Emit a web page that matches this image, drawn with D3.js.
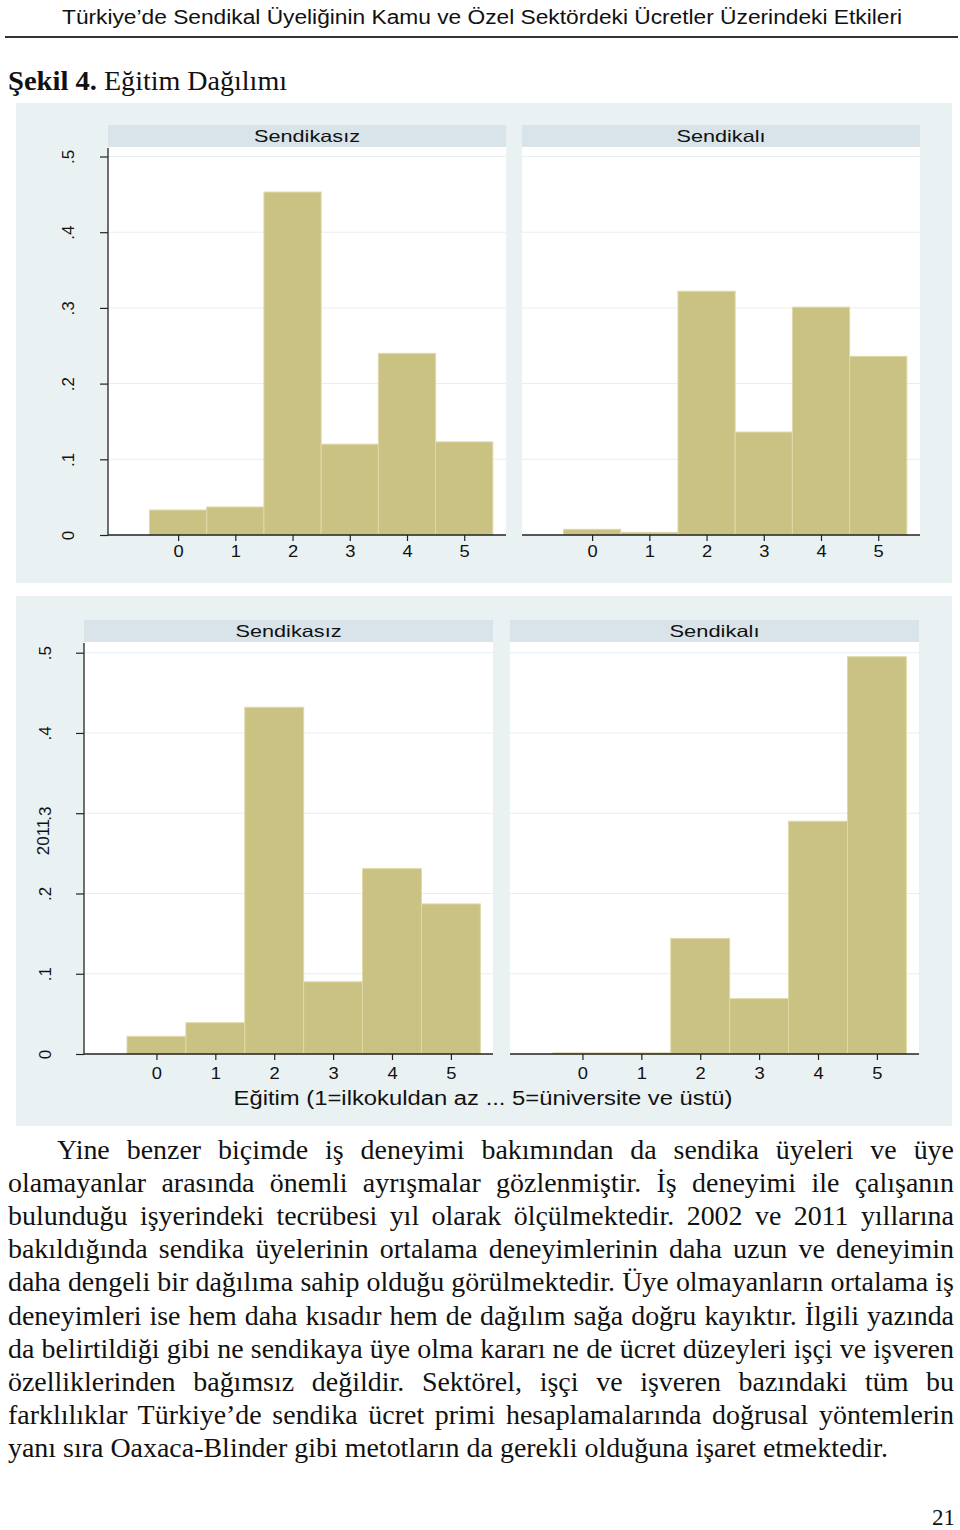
<!DOCTYPE html>
<html><head><meta charset="utf-8">
<script src="https://cdn.jsdelivr.net/npm/d3@7"></script>
<style>body{margin:0;background:#fff}svg{display:block}</style>
</head><body><div id="chart"></div>
<script>
// ---- data ----
const categories = [0, 1, 2, 3, 4, 5];
const yTicks = [0, 0.1, 0.2, 0.3, 0.4, 0.5];
const yTickLabels = ["0", ".1", ".2", ".3", ".4", ".5"];
const panelTitles = ["Sendikasız", "Sendikalı"];
const nonUnion2002 = [0.033, 0.037, 0.453, 0.120, 0.240, 0.123];
const union2002 = [0.0075, 0.0035, 0.322, 0.136, 0.301, 0.236];
const nonUnion2011 = [0.022, 0.039, 0.432, 0.090, 0.231, 0.187];
const union2011 = [0.0015, 0.0015, 0.144, 0.069, 0.290, 0.495];
const yAxisTitle2011 = "2011";
const xAxisTitle = "Eğitim (1=ilkokuldan az ... 5=üniversite ve üstü)";
const headerText = "Türkiye’de Sendikal Üyeliğinin Kamu ve Özel Sektördeki Ücretler Üzerindeki Etkileri";
const figureLabelBold = "Şekil 4.";
const figureLabelRest = "Eğitim Dağılımı";
const bodyLines = [
  "Yine benzer biçimde iş deneyimi bakımından da sendika üyeleri ve üye",
  "olamayanlar arasında önemli ayrışmalar gözlenmiştir. İş deneyimi ile çalışanın",
  "bulunduğu işyerindeki tecrübesi yıl olarak ölçülmektedir. 2002 ve 2011 yıllarına",
  "bakıldığında sendika üyelerinin ortalama deneyimlerinin daha uzun ve deneyimin",
  "daha dengeli bir dağılıma sahip olduğu görülmektedir. Üye olmayanların ortalama iş",
  "deneyimleri ise hem daha kısadır hem de dağılım sağa doğru kayıktır. İlgili yazında",
  "da belirtildiği gibi ne sendikaya üye olma kararı ne de ücret düzeyleri işçi ve işveren",
  "özelliklerinden bağımsız değildir. Sektörel, işçi ve işveren bazındaki tüm bu",
  "farklılıklar Türkiye’de sendika ücret primi hesaplamalarında doğrusal yöntemlerin",
  "yanı sıra Oaxaca-Blinder gibi metotların da gerekli olduğuna işaret etmektedir."
];
const pageNumber = "21";

// ---- style ----
const BG = "#eaf1f3", STRIP = "#d8e4ea", BAR = "#cac283", BAR_EDGE = "#dfd9a8", GRID = "#e7eef0";
const SANS = "'Liberation Sans', Arial, sans-serif";
const SERIF = "'Liberation Serif', 'Times New Roman', serif";

const svg = d3.select("#chart").append("svg").attr("width", 960).attr("height", 1530);
svg.append("rect").attr("width", 960).attr("height", 1530).attr("fill", "#fff");

// header
svg.append("text").attr("x", 62).attr("y", 24).attr("font-family", SANS).attr("font-size", 19.5)
  .attr("textLength", 840).attr("lengthAdjust", "spacingAndGlyphs").attr("fill", "#111").text(headerText);
svg.append("line").attr("x1", 5).attr("x2", 958).attr("y1", 37).attr("y2", 37).attr("stroke", "#333").attr("stroke-width", 2);

svg.append("text").attr("x", 8).attr("y", 90).attr("font-family", SERIF).attr("font-size", 27).attr("font-weight", "bold")
  .attr("textLength", 89).attr("lengthAdjust", "spacingAndGlyphs").attr("fill", "#111").text(figureLabelBold);
svg.append("text").attr("x", 104).attr("y", 90).attr("font-family", SERIF).attr("font-size", 27)
  .attr("textLength", 183).attr("lengthAdjust", "spacingAndGlyphs").attr("fill", "#111").text(figureLabelRest);

const figures = [
  { bg: [16, 103, 952, 583], y0: 535, yTop: 156.5, strip: [125, 147], yLabX: 68, xLabY: 551,
    xDom: [-1.225, 5.73],
    panels: [{ x0: 108, x1: 506, values: nonUnion2002, tw: 106, axis: true },
             { x0: 522, x1: 920, values: union2002, tw: 89, axis: false }] },
  { bg: [16, 596, 952, 1126], y0: 1054, yTop: 652.7, strip: [620, 642], yLabX: 45, xLabY: 1073,
    xDom: [-1.23, 5.715],
    panels: [{ x0: 84, x1: 493, values: nonUnion2011, tw: 106, axis: true },
             { x0: 510, x1: 919, values: union2011, tw: 90, axis: false }],
    yTitle: yAxisTitle2011, xTitle: xAxisTitle }
];

figures.forEach(f => {
  const g = svg.append("g");
  g.append("rect").attr("x", f.bg[0]).attr("y", f.bg[1]).attr("width", f.bg[2] - f.bg[0]).attr("height", f.bg[3] - f.bg[1]).attr("fill", BG);
  const y = d3.scaleLinear().domain([0, 0.5]).range([f.y0, f.yTop]);
  f.panels.forEach((p, pi) => {
    const x = d3.scaleLinear().domain(f.xDom).range([p.x0, p.x1]);
    g.append("rect").attr("x", p.x0).attr("y", f.strip[0]).attr("width", p.x1 - p.x0).attr("height", f.strip[1] - f.strip[0]).attr("fill", STRIP);
    g.append("text").attr("x", (p.x0 + p.x1) / 2).attr("y", (f.strip[0] + f.strip[1]) / 2).attr("dy", "0.36em")
      .attr("text-anchor", "middle").attr("font-family", SANS).attr("font-size", 16.5)
      .attr("textLength", p.tw).attr("lengthAdjust", "spacingAndGlyphs").attr("fill", "#111").text(panelTitles[pi]);
    g.append("rect").attr("x", p.x0).attr("y", f.strip[1]).attr("width", p.x1 - p.x0).attr("height", f.y0 - f.strip[1]).attr("fill", "#fff");
    g.selectAll(null).data(yTicks.slice(1)).enter().append("line")
      .attr("x1", p.x0).attr("x2", p.x1).attr("y1", d => y(d)).attr("y2", d => y(d))
      .attr("stroke", GRID).attr("stroke-width", 1);
    g.selectAll(null).data(categories).enter().append("rect")
      .attr("x", d => x(d - 0.5)).attr("width", d => x(d + 0.5) - x(d - 0.5))
      .attr("y", (d, i) => y(p.values[i])).attr("height", (d, i) => f.y0 - y(p.values[i]))
      .attr("fill", BAR).attr("stroke", BAR_EDGE).attr("stroke-width", 1);
    const xa = d3.axisBottom(x).tickValues(categories).tickSize(6).tickPadding(5).tickFormat(d3.format("d"));
    const xg = g.append("g").attr("transform", `translate(0,${f.y0})`).call(xa);
    xg.select(".domain").attr("d", `M${p.x0},0H${p.x1}`).attr("stroke", "#222").attr("stroke-width", 1.3);
    xg.selectAll(".tick line").attr("stroke", "#222").attr("stroke-width", 1.2);
    xg.selectAll(".tick text").attr("font-family", SANS).attr("font-size", 17).attr("fill", "#111")
      .attr("y", null).attr("dy", null).attr("transform", `translate(0,${f.xLabY - f.y0}) scale(1.08,1)`).attr("dominant-baseline", "central");
    if (p.axis) {
      const ya = d3.axisLeft(y).tickValues(yTicks).tickSize(8).tickFormat((d, i) => yTickLabels[i]);
      const yg = g.append("g").attr("transform", `translate(${p.x0},0)`).call(ya);
      yg.select(".domain").attr("d", `M0,${f.strip[1] + 1}V${f.y0}`).attr("stroke", "#222").attr("stroke-width", 1.3);
      yg.selectAll(".tick line").attr("stroke", "#222").attr("stroke-width", 1.2);
      yg.selectAll(".tick text").attr("font-family", SANS).attr("font-size", 17).attr("fill", "#111")
        .attr("x", null).attr("dy", null).attr("text-anchor", "middle").attr("dominant-baseline", "central")
        .attr("transform", `translate(${f.yLabX - p.x0},0) rotate(-90)`);
    }
  });
  if (f.yTitle) {
    g.append("text").attr("transform", `translate(43,837) rotate(-90)`).attr("text-anchor", "middle")
      .attr("dominant-baseline", "central").attr("font-family", SANS).attr("font-size", 17).attr("fill", "#111").text(f.yTitle);
  }
  if (f.xTitle) {
    g.append("text").attr("x", 483).attr("y", 1098).attr("dy", "0.36em").attr("text-anchor", "middle")
      .attr("font-family", SANS).attr("font-size", 19.5).attr("textLength", 499).attr("lengthAdjust", "spacingAndGlyphs")
      .attr("fill", "#111").text(f.xTitle);
  }
});

// body text: condensed serif; lines justified by word spacing
const BODY_SIZE = 28;
const bodyG = svg.append("g");
const nodes = bodyLines.map((line, i) => bodyG.append("text")
  .attr("font-family", SERIF).attr("font-size", BODY_SIZE).attr("fill", "#111").text(line));
const lastW = nodes[nodes.length - 1].node().getComputedTextLength();
const condense = Math.min(1, 880 / lastW);
nodes.forEach((t, i) => {
  const line = bodyLines[i];
  const x0 = i === 0 ? 57 : 8;
  const x1 = i === bodyLines.length - 1 ? 888 : 954;
  t.attr("transform", `translate(${x0},${1159 + i * 33.1}) scale(${condense},1)`);
  if (i < bodyLines.length - 1) {
    const w = t.node().getComputedTextLength();
    const spaces = (line.match(/ /g) || []).length;
    const extra = ((x1 - x0) / condense - w) / spaces;
    t.attr("word-spacing", extra);
  }
});
svg.append("text").attr("x", 955).attr("y", 1525).attr("text-anchor", "end")
  .attr("font-family", SERIF).attr("font-size", 23).attr("fill", "#111").text(pageNumber);
</script></body></html>
